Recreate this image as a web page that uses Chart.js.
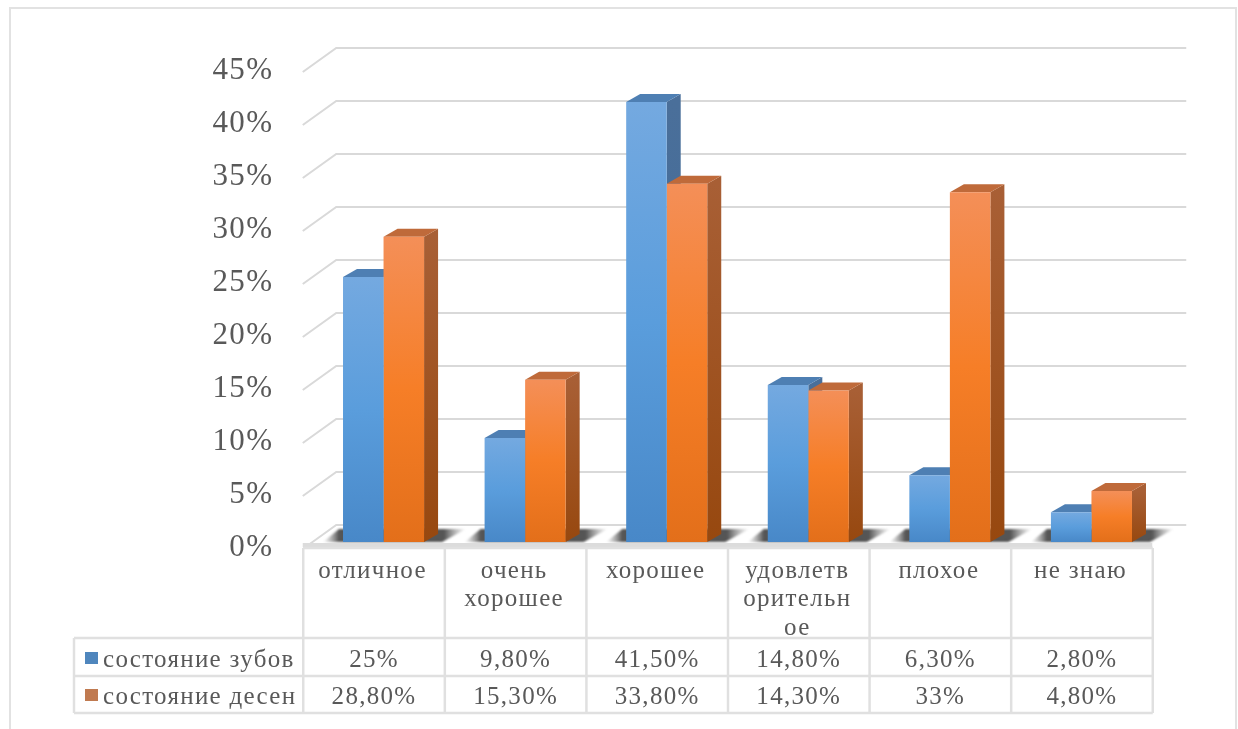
<!DOCTYPE html>
<html><head><meta charset="utf-8">
<style>html,body{margin:0;padding:0;background:#fff}canvas{display:block;filter:blur(.6px)}</style>
<script src="https://cdn.jsdelivr.net/npm/chart.js@4"></script></head>
<body><canvas id="c" width="1238" height="729"></canvas>
<script>
const categories = ["отличное", ["очень","хорошее"], "хорошее", ["удовлетв","орительн","ое"], "плохое", "не знаю"];
const teeth = [25, 9.8, 41.5, 14.8, 6.3, 2.8];
const gums = [28.8, 15.3, 33.8, 14.3, 33, 4.8];
const seriesNames = ["состояние зубов", "состояние десен"];
const keyColors = ["#4f86bd", "#c07a50"];
const FONT = '"Liberation Serif", serif';
const TXT = '#595959', GRID = '#d9d9d9', TBL = '#e0e0e0';
const DX = 14, DY = 8;

const fmt = v => Number.isInteger(v) ? v + '%' : v.toFixed(2).replace('.', ',') + '%';
const vGrad = (ctx, el, top, bottom) => {
  const g = ctx.createLinearGradient(0, el.y, 0, el.base);
  g.addColorStop(0, top); g.addColorStop(1, bottom); return g;
};
function frontFill(stops){
  return c => {
    const {chartArea, scales, ctx} = c.chart;
    if (!chartArea) return stops[1];
    const v = c.raw, y0 = scales.y.getPixelForValue(v), b = scales.y.getPixelForValue(0);
    const g = ctx.createLinearGradient(0, y0, 0, b);
    g.addColorStop(0, stops[0]); g.addColorStop(.5, stops[1]); g.addColorStop(1, stops[2]);
    return g;
  };
}
function poly(ctx, pts, fill){
  ctx.beginPath(); pts.forEach((p,i)=> i?ctx.lineTo(p[0],p[1]):ctx.moveTo(p[0],p[1]));
  ctx.closePath(); ctx.fillStyle = fill; ctx.fill();
}
const faces = [
  {top:'#4e7fb3', side:['#4a6f9a','#3f6a97']},
  {top:'#bf6a3a', side:['#a85f35','#97480f']}
];
const scene = {
  id:'scene',
  beforeDraw(chart){ chart.ctx.letterSpacing = '1.3px'; },
  beforeDatasetsDraw(chart){
    const {ctx, scales:{x,y}} = chart;
    const xl = x.left - 10;
    const xr = x.right + 24;
    ctx.save();
    // frame
    ctx.lineWidth = 2;
    ctx.strokeStyle = '#e2e2e2';
    ctx.beginPath(); ctx.moveTo(10,729); ctx.lineTo(10,8); ctx.lineTo(1236,8); ctx.lineTo(1236,729); ctx.stroke();
    // grid lines on wall and side
    ctx.strokeStyle = GRID; ctx.lineWidth = 2;
    y.ticks.forEach(t => {
      const p = y.getPixelForValue(t.value);
      ctx.beginPath(); ctx.moveTo(xl, p + 7); ctx.lineTo(xr - 850, p - 17); ctx.lineTo(xr, p - 17); ctx.stroke();
    });
    // floor shadow
    const base = y.getPixelForValue(0);
    ctx.save();
    ctx.filter = 'blur(1.2px)';
    chart.getDatasetMeta(0).data.forEach(el => {
      const l = el.x - el.width/2, r = l + 2*el.width;
      const x0 = l - 20, x1 = r + 42, w = x1 - x0;
      const g = ctx.createLinearGradient(x0, 0, x1, 0);
      g.addColorStop(0,'rgba(110,110,110,0)'); g.addColorStop(16/w,'rgba(55,55,55,.85)');
      g.addColorStop((r-x0+20)/w,'rgba(55,55,55,.85)'); g.addColorStop(1,'rgba(110,110,110,0)');
      poly(ctx, [[x0,base],[r+18,base],[x1,base-13],[l-4,base-13]], g);
    });
    ctx.restore();
    // floor front edge
    ctx.strokeStyle = '#dcdcdc'; ctx.lineWidth = 4;
    ctx.beginPath(); ctx.moveTo(xl, base + 3); ctx.lineTo(x.right - 10, base + 3); ctx.stroke();
    // 3D side and top faces of each bar
    [0,1].forEach(d => {
      chart.getDatasetMeta(d).data.forEach(el => {
        const l = el.x - el.width/2, r = el.x + el.width/2;
        poly(ctx, [[r,el.y],[r+DX,el.y-DY],[r+DX,el.base-DY],[r,el.base]], vGrad(ctx, el, faces[d].side[0], faces[d].side[1]));
        poly(ctx, [[l,el.y],[r,el.y],[r+DX,el.y-DY],[l+DX,el.y-DY]], faces[d].top);
      });
    });
    ctx.restore();
  },
  afterDraw(chart){
    const {ctx, scales:{x}} = chart;
    const step = x.getPixelForValue(1) - x.getPixelForValue(0);
    const edge = i => x.getPixelForValue(0) - 9.5 - step/2 + i*step;
    const top = 548, r0 = 638, r1 = 676, r2 = 713, left = 74;
    ctx.save();
    ctx.strokeStyle = TBL; ctx.lineWidth = 2.5;
    const line = (a,b,c,d) => {ctx.beginPath(); ctx.moveTo(a,b); ctx.lineTo(c,d); ctx.stroke();};
    line(edge(0),top,edge(6),top);
    [r0,r1,r2].forEach(v => line(left,v,edge(6),v));
    line(left,r0,left,r2);
    for (let i=0;i<=6;i++) line(edge(i),top,edge(i),r2);
    ctx.font = '25px ' + FONT; ctx.textBaseline = 'middle'; ctx.letterSpacing = '1.3px';
    [teeth,gums].forEach((arr,row) => {
      const cy = row ? 697 : 660;
      ctx.fillStyle = keyColors[row]; ctx.fillRect(85, cy-8, 13, 12);
      ctx.fillStyle = TXT; ctx.textAlign = 'left';
      ctx.fillText(seriesNames[row], 103, cy);
      ctx.textAlign = 'center';
      arr.forEach((v,i) => ctx.fillText(fmt(v), (edge(i)+edge(i+1))/2, cy));
    });
    ctx.restore();
  }
};
new Chart(document.getElementById('c'), {
  type:'bar',
  data:{ labels:categories, datasets:[
    {label:seriesNames[0], data:teeth, backgroundColor:frontFill(['#74a9e0','#5a9ddc','#4888c8']), barPercentage:1, categoryPercentage:.5725},
    {label:seriesNames[1], data:gums, backgroundColor:frontFill(['#f48f58','#f67e27','#e36f1a']), barPercentage:1, categoryPercentage:.5725}
  ]},
  plugins:[scene],
  options:{
    responsive:false, animation:false, devicePixelRatio:1,
    layout:{padding:{left:0,right:75.75,top:65,bottom:0}},
    plugins:{legend:{display:false},tooltip:{enabled:false},title:{display:false}},
    scales:{
      x:{ grid:{display:false,drawTicks:false}, border:{display:false},
          afterFit:s=>{s.height=187},
          ticks:{autoSkip:false,maxRotation:0,minRotation:0,labelOffset:-11,padding:15,color:TXT,
                 font:{family:FONT,size:25,lineHeight:1.14}} },
      y:{ min:0,max:45, grid:{display:false,drawTicks:false}, border:{display:false},
          afterFit:s=>{s.width=312.75},
          ticks:{stepSize:5,padding:39.5,labelOffset:6,color:TXT,font:{family:FONT,size:31},
                 callback:v=>v+'%'} }
    }
  }
});
</script></body></html>
